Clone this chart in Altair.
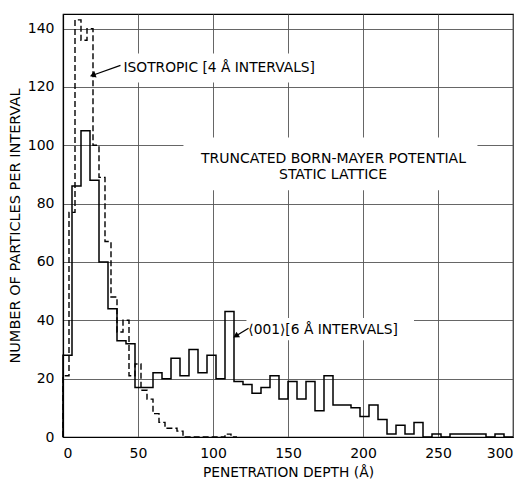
import altair as alt
import pandas as pd

# ---- data ----
iso_width = 4     # isotropic histogram, 4 Å bins starting at 0
iso_counts = [21, 77, 143, 136, 140, 100, 89, 67, 48, 36, 40, 21, 25, 16, 13, 8, 5, 3, 3, 2,
              0, 0, 0, 0, 0, 0, 0, 1, 0]
dir_width = 6     # <001> histogram, 6 Å bins starting at 0
dir_counts = [28, 86, 105, 88, 60, 44, 33, 32, 17, 17,
              22, 20, 27, 21, 30, 22, 28, 20, 43, 19,
              18, 15, 17, 21, 13, 19, 13, 19, 9, 21,
              11, 11, 10, 7, 11, 6, 1, 4, 1, 5,
              0, 1, 0, 1, 1, 1, 1, 0, 1, 0]

x_ticks = [0, 50, 100, 150, 200, 250, 300]
y_ticks = [0, 20, 40, 60, 80, 100, 120, 140]

labels_text = ["ISOTROPIC [4 Å INTERVALS]", "TRUNCATED BORN-MAYER POTENTIAL",
               "STATIC LATTICE", "⟨001⟩[6 Å INTERVALS]"]
labels_x = [40.3, 180.3, 180.0, 123.5]
labels_y = [126.4, 95.4, 89.7, 36.6]
labels_align = ["left", "center", "center", "left"]

# white boxes behind the annotations (data units)
box_x = [37.0, 80.3, 122.3]
box_x2 = [170.0, 276.3, 234.0]
box_y = [121.5, 84.6, 33.2]
box_y2 = [131.5, 102.7, 40.8]

# annotation arrows: tail -> head (data units)
arrow_x = [38.3, 123.7]
arrow_y = [127.4, 37.3]
arrow_x2 = [19.8, 115.2]
arrow_y2 = [124.0, 34.6]
arrow_angle = [250, 238]

FONT = "DejaVu Sans"


def steps(counts, width, name):
    xs, ys = [0], [0]
    for i, c in enumerate(counts):
        xs.append(i * width)
        ys.append(c)
    xs.append(len(counts) * width)
    ys.append(0)
    return pd.DataFrame({"x": xs, "y": ys, "i": range(len(xs)), "s": name})


iso_df = steps(iso_counts, iso_width, "iso")
dir_df = steps(dir_counts, dir_width, "dir")

xscale = alt.Scale(domain=[0, 300], nice=False, zero=False)
yscale = alt.Scale(domain=[0, 145], nice=False, zero=False)

xaxis = alt.Axis(values=x_ticks, title="PENETRATION DEPTH (Å)", grid=True, ticks=False,
                 labelPadding=9, titlePadding=5, titleFontSize=13.8)
yaxis = alt.Axis(values=y_ticks, title="NUMBER OF PARTICLES PER INTERVAL", grid=True,
                 ticks=False, labelPadding=9, titlePadding=5, titleFontSize=14.5)


def X(field="x"):
    return alt.X(f"{field}:Q", scale=xscale, axis=xaxis)


def Y(field="y"):
    return alt.Y(f"{field}:Q", scale=yscale, axis=yaxis)


boxes = alt.Chart(pd.DataFrame({"x": box_x, "x2": box_x2, "y": box_y, "y2": box_y2})).mark_rect(
    color="white").encode(x=X(), x2="x2", y=Y(), y2="y2")

iso_line = alt.Chart(iso_df).mark_line(interpolate="step-after", color="black",
                                       strokeWidth=1.4, strokeDash=[6, 3]).encode(
    x=X(), y=Y(), order="i:Q")

dir_line = alt.Chart(dir_df).mark_line(interpolate="step-after", color="black",
                                       strokeWidth=1.5).encode(
    x=X(), y=Y(), order="i:Q")

arrow_df = pd.DataFrame({"x": arrow_x, "y": arrow_y, "x2": arrow_x2, "y2": arrow_y2,
                         "a": arrow_angle})
arrows = alt.Chart(arrow_df).mark_rule(color="black", strokeWidth=1.3).encode(
    x=X(), y=Y(), x2="x2", y2="y2")
heads = alt.Chart(arrow_df).mark_point(shape="triangle-up", filled=True, color="black",
                                       size=45, opacity=1).encode(
    x=X("x2"), y=Y("y2"), angle=alt.Angle("a:Q", scale=None))

lab_df = pd.DataFrame({"x": labels_x, "y": labels_y, "t": labels_text, "al": labels_align})
texts_left = alt.Chart(lab_df[lab_df.al == "left"]).mark_text(
    align="left", baseline="middle", font=FONT, fontSize=13.8, color="black").encode(
    x=X(), y=Y(), text="t:N")
texts_center = alt.Chart(lab_df[lab_df.al == "center"]).mark_text(
    align="center", baseline="middle", font=FONT, fontSize=14, color="black").encode(
    x=X(), y=Y(), text="t:N")

chart = alt.layer(boxes, iso_line, dir_line, arrows, heads, texts_left, texts_center).properties(
    width=450, height=423,
    autosize=alt.AutoSizeParams(type="none"),
    padding={"left": 63, "top": 14, "right": 11, "bottom": 45},
    background="white",
).configure_view(stroke="black", strokeWidth=1.2).configure_axis(
    labelFont=FONT, titleFont=FONT, labelFontSize=14, titleFontSize=13.8,
    titleFontWeight="normal", labelColor="black", titleColor="black",
    domainColor="black", domainWidth=1.2, gridColor="#555555", gridWidth=0.9,
    gridOpacity=1,
)

chart.save("out.html", embed_options={"renderer": "svg", "actions": False})
